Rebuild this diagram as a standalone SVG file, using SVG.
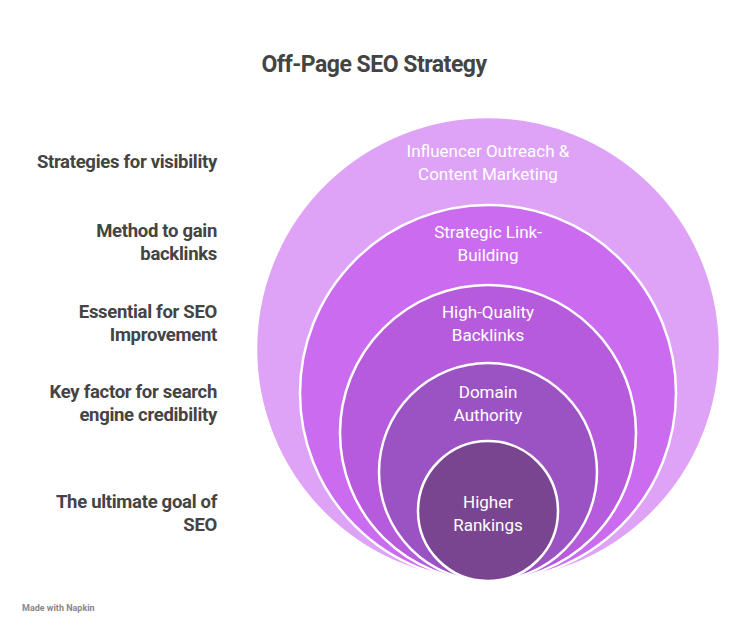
<svg xmlns="http://www.w3.org/2000/svg" width="750" height="635" viewBox="0 0 750 635">
<style>
.c{stroke:#fff;stroke-width:2.5}
.t{font-family:Roboto,"Liberation Sans",sans-serif;font-size:17px;fill:#fff;text-anchor:middle}
.l{font-family:Roboto,"Liberation Sans",sans-serif;font-size:18.5px;font-weight:bold;fill:#444;text-anchor:end;letter-spacing:-0.3px}
</style>
<rect width="750" height="635" fill="#fff"/>
<text x="374" y="72" style="font-family:Roboto,'Liberation Sans',sans-serif;font-size:23px;font-weight:bold;fill:#444;text-anchor:middle;letter-spacing:-0.5px">Off-Page SEO Strategy</text>
<g id="n1"><circle class="c" cx="488" cy="349" r="232" fill="#DEA3F7"/><text class="t" x="488" y="157">Influencer Outreach &amp;</text><text class="t" x="488" y="180">Content Marketing</text></g>
<g id="n2"><circle class="c" cx="488" cy="393" r="188" fill="#CB6BF0"/><text class="t" x="488" y="238">Strategic Link-</text><text class="t" x="488" y="261">Building</text></g>
<g id="n3"><circle class="c" cx="488" cy="433" r="148" fill="#B55BDC"/><text class="t" x="488" y="318">High-Quality</text><text class="t" x="488" y="341">Backlinks</text></g>
<g id="n4"><circle class="c" cx="488" cy="472" r="109" fill="#9B53C3"/><text class="t" x="488" y="398">Domain</text><text class="t" x="488" y="421">Authority</text></g>
<g id="n5"><circle class="c" cx="488" cy="511" r="70" fill="#7A4590"/><text class="t" x="488" y="508">Higher</text><text class="t" x="488" y="531">Rankings</text></g>
<g id="labels">
<text class="l" x="217" y="168">Strategies for visibility</text>
<text class="l" x="217" y="237">Method to gain</text><text class="l" x="217" y="260">backlinks</text>
<text class="l" x="217" y="318">Essential for SEO</text><text class="l" x="217" y="341">Improvement</text>
<text class="l" x="217" y="398">Key factor for search</text><text class="l" x="217" y="421">engine credibility</text>
<text class="l" x="217" y="508">The ultimate goal of</text><text class="l" x="217" y="531">SEO</text>
</g>
<g id="connectors"/>
<text x="22" y="611" style="font-family:Roboto,'Liberation Sans',sans-serif;font-size:9px;font-weight:bold;fill:#888">Made with Napkin</text>
</svg>
